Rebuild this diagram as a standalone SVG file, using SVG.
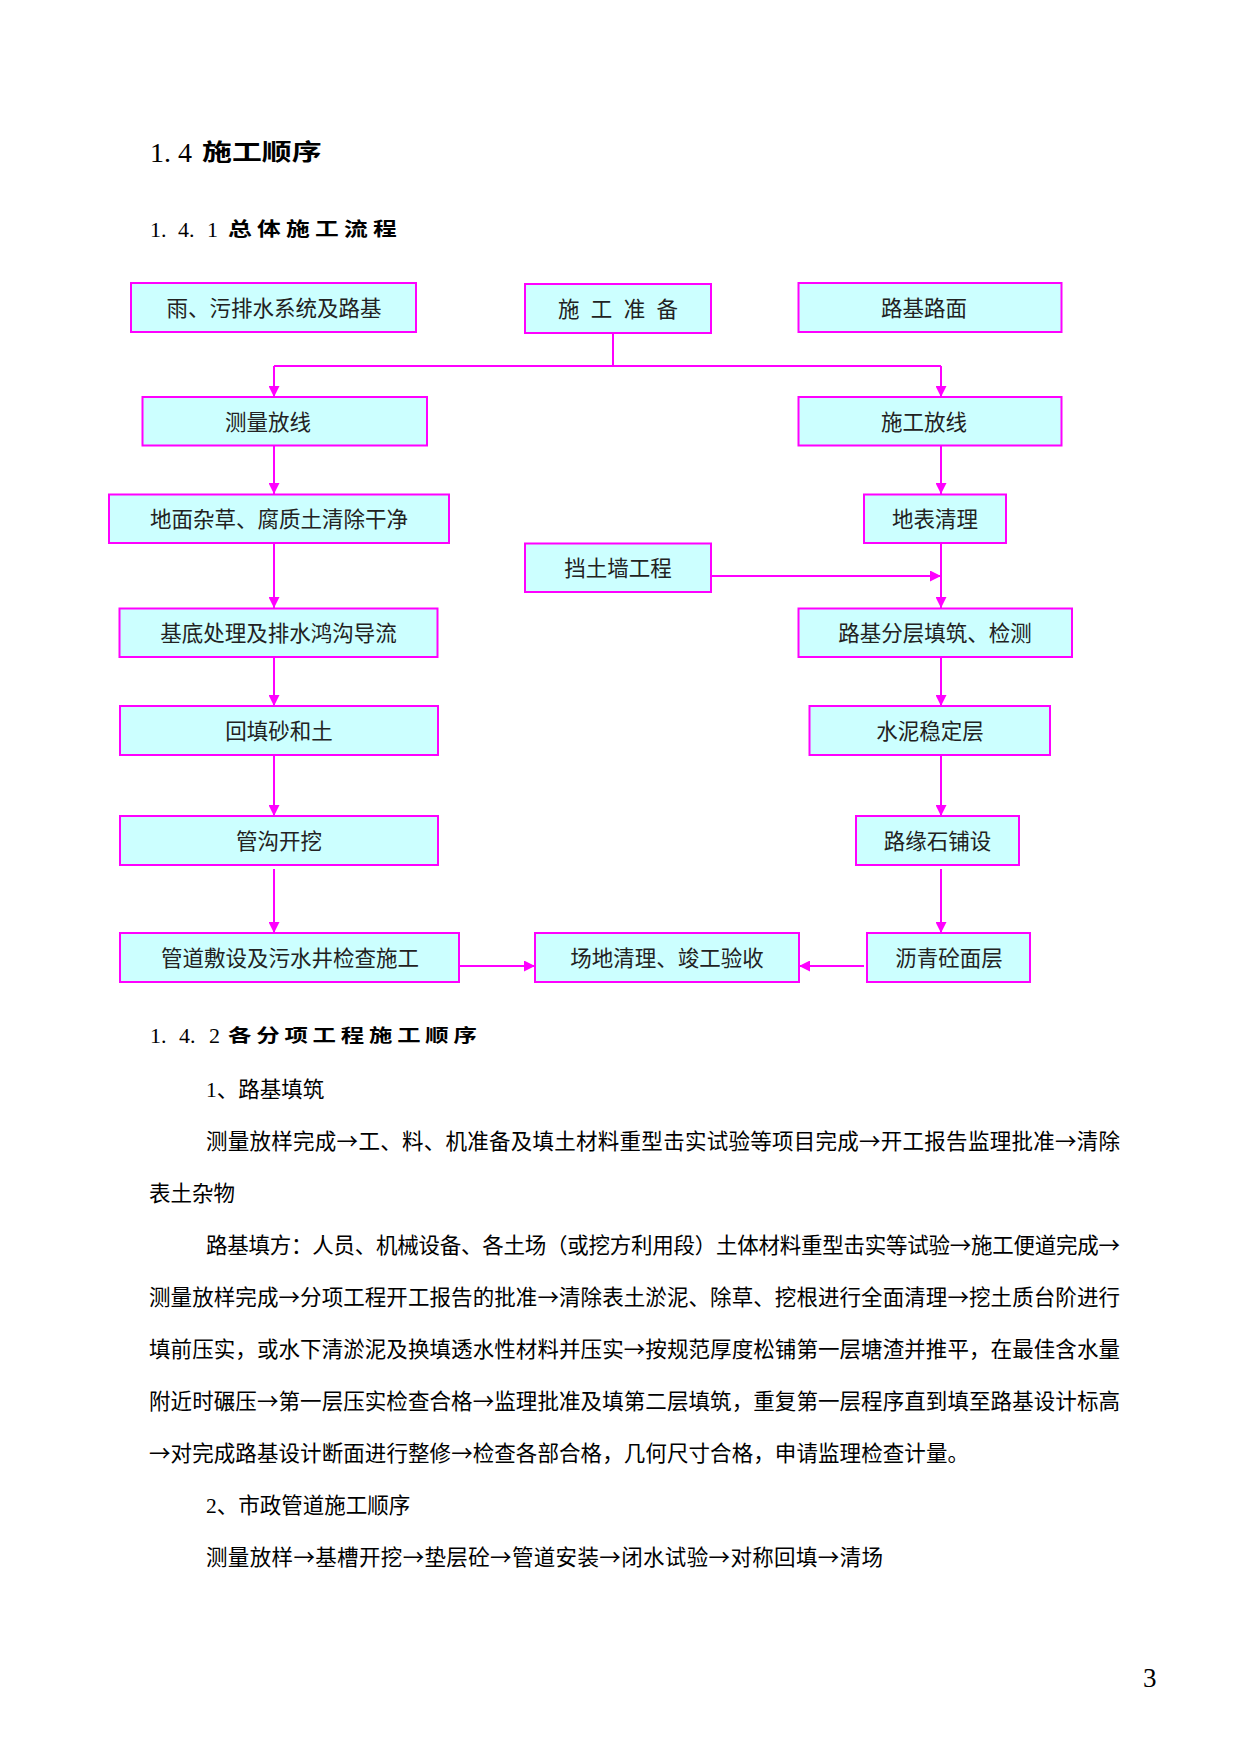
<svg xmlns="http://www.w3.org/2000/svg" width="1241" height="1754" viewBox="0 0 1241 1754">
<defs>
<style>
.box{fill:#CCFFFF;stroke:#FF00FF;stroke-width:2}
.bt{font-family:"Liberation Serif","Noto Sans CJK SC",serif;font-size:21.5px;fill:#222;text-anchor:middle}
.con{stroke:#FF00FF;stroke-width:2;fill:none}
.arr{marker-end:url(#ah)}
.body{font-family:"Liberation Serif","Noto Sans CJK SC",serif;font-size:21.5px;fill:#000}
.ar{font-family:"Noto Sans CJK SC",sans-serif}
.num{font-family:"Liberation Serif",serif;fill:#000}
.hd{font-family:"Noto Sans CJK SC",sans-serif;font-weight:bold;fill:#000}
</style>
<marker id="ah" markerUnits="userSpaceOnUse" markerWidth="11" markerHeight="11" refX="11" refY="5.5" orient="auto">
<path d="M0,0 L11,5.5 L0,11 Z" fill="#FF00FF"/>
</marker>
</defs>
<rect width="1241" height="1754" fill="#fff"/>

<g id="headings">
<text class="num" y="162" font-size="28"><tspan x="150">1.</tspan><tspan x="178">4</tspan></text>
<text class="hd" transform="translate(202,160) scale(1.3,1)" font-size="23">施工顺序</text>
<text class="num" y="237" font-size="22"><tspan x="150">1.</tspan><tspan x="178">4.</tspan><tspan x="207">1</tspan></text>
<text class="hd" transform="translate(228,235.5) scale(1.25,1)" font-size="19" letter-spacing="4.2">总体施工流程</text>
<text class="num" y="1043" font-size="22"><tspan x="150">1.</tspan><tspan x="179">4.</tspan><tspan x="209">2</tspan></text>
<text class="hd" transform="translate(228,1042) scale(1.3,1)" font-size="18" letter-spacing="3.7">各分项工程施工顺序</text>
</g>

<g id="connectors">
<polyline class="con" points="613,333 613,366"/>
<line class="con" x1="274" y1="366" x2="941" y2="366"/>
<line class="con arr" x1="274" y1="366" x2="274" y2="397"/>
<line class="con arr" x1="941" y1="366" x2="941" y2="397"/>
<line class="con arr" x1="274" y1="446" x2="274" y2="494"/>
<line class="con arr" x1="274" y1="543" x2="274" y2="608"/>
<line class="con arr" x1="274" y1="657" x2="274" y2="706"/>
<line class="con arr" x1="274" y1="755" x2="274" y2="816"/>
<line class="con arr" x1="274" y1="869" x2="274" y2="933"/>
<line class="con arr" x1="459" y1="966" x2="535" y2="966"/>
<line class="con arr" x1="864" y1="966" x2="799" y2="966"/>
<line class="con arr" x1="941" y1="446" x2="941" y2="494"/>
<line class="con arr" x1="941" y1="543" x2="941" y2="608"/>
<line class="con arr" x1="711" y1="576" x2="941" y2="576"/>
<line class="con arr" x1="941" y1="657" x2="941" y2="706"/>
<line class="con arr" x1="941" y1="755" x2="941" y2="816"/>
<line class="con arr" x1="941" y1="869" x2="941" y2="933"/>
</g>

<g id="n1"><rect class="box" x="131" y="283" width="285" height="49"/><text class="bt" x="274" y="315.5">雨、污排水系统及路基</text></g>
<g id="n2"><rect class="box" x="525" y="284" width="186" height="49"/><text class="bt" x="618" y="316.5" word-spacing="6">施 工 准 备</text></g>
<g id="n3"><rect class="box" x="798.5" y="283" width="263" height="49"/><text class="bt" x="924" y="315.5">路基路面</text></g>
<g id="n4"><rect class="box" x="142.5" y="397" width="284.5" height="48.5"/><text class="bt" x="268" y="429.5">测量放线</text></g>
<g id="n5"><rect class="box" x="798.5" y="397" width="263" height="48.5"/><text class="bt" x="924" y="429.5">施工放线</text></g>
<g id="n6"><rect class="box" x="109" y="494.5" width="340" height="48.5"/><text class="bt" x="279" y="527">地面杂草、腐质土清除干净</text></g>
<g id="n7"><rect class="box" x="864" y="494.5" width="142" height="48.5"/><text class="bt" x="935" y="527">地表清理</text></g>
<g id="n8"><rect class="box" x="525" y="543.5" width="186" height="48.5"/><text class="bt" x="618" y="576">挡土墙工程</text></g>
<g id="n9"><rect class="box" x="119.5" y="608.5" width="318" height="48.5"/><text class="bt" x="278.5" y="641">基底处理及排水鸿沟导流</text></g>
<g id="n10"><rect class="box" x="798.5" y="608.5" width="273.5" height="48.5"/><text class="bt" x="935" y="641">路基分层填筑、检测</text></g>
<g id="n11"><rect class="box" x="120" y="706" width="318" height="49"/><text class="bt" x="279" y="738.5">回填砂和土</text></g>
<g id="n12"><rect class="box" x="809.5" y="706" width="240.5" height="49"/><text class="bt" x="930" y="738.5">水泥稳定层</text></g>
<g id="n13"><rect class="box" x="120" y="816" width="318" height="49"/><text class="bt" x="279" y="848.5">管沟开挖</text></g>
<g id="n14"><rect class="box" x="856" y="816" width="163" height="49"/><text class="bt" x="937.5" y="848.5">路缘石铺设</text></g>
<g id="n15"><rect class="box" x="120" y="933" width="339" height="49"/><text class="bt" x="290" y="965.5">管道敷设及污水井检查施工</text></g>
<g id="n16"><rect class="box" x="535" y="933" width="264" height="49"/><text class="bt" x="667" y="965.5">场地清理、竣工验收</text></g>
<g id="n17"><rect class="box" x="867" y="933" width="163" height="49"/><text class="bt" x="949" y="965.5">沥青砼面层</text></g>

<g id="bodytext">
<text class="body" x="206" y="1097">1、路基填筑</text>
<text class="body" x="206" y="1149" textLength="914">测量放样完成<tspan class="ar">→</tspan>工、料、机准备及填土材料重型击实试验等项目完成<tspan class="ar">→</tspan>开工报告监理批准<tspan class="ar">→</tspan>清除</text>
<text class="body" x="149" y="1201">表土杂物</text>
<text class="body" x="206" y="1253" textLength="914">路基填方：人员、机械设备、各土场（或挖方利用段）土体材料重型击实等试验<tspan class="ar">→</tspan>施工便道完成<tspan class="ar">→</tspan></text>
<text class="body" x="149" y="1305" textLength="971">测量放样完成<tspan class="ar">→</tspan>分项工程开工报告的批准<tspan class="ar">→</tspan>清除表土淤泥、除草、挖根进行全面清理<tspan class="ar">→</tspan>挖土质台阶进行</text>
<text class="body" x="149" y="1357" textLength="971">填前压实，或水下清淤泥及换填透水性材料并压实<tspan class="ar">→</tspan>按规范厚度松铺第一层塘渣并推平，在最佳含水量</text>
<text class="body" x="149" y="1409" textLength="971">附近时碾压<tspan class="ar">→</tspan>第一层压实检查合格<tspan class="ar">→</tspan>监理批准及填第二层填筑，重复第一层程序直到填至路基设计标高</text>
<text class="body" x="149" y="1461" textLength="820"><tspan class="ar">→</tspan>对完成路基设计断面进行整修<tspan class="ar">→</tspan>检查各部合格，几何尺寸合格，申请监理检查计量。</text>
<text class="body" x="206" y="1513">2、市政管道施工顺序</text>
<text class="body" x="206" y="1565" textLength="677">测量放样<tspan class="ar">→</tspan>基槽开挖<tspan class="ar">→</tspan>垫层砼<tspan class="ar">→</tspan>管道安装<tspan class="ar">→</tspan>闭水试验<tspan class="ar">→</tspan>对称回填<tspan class="ar">→</tspan>清场</text>
</g>

<text class="num" x="1143" y="1687" font-size="27">3</text>
</svg>
